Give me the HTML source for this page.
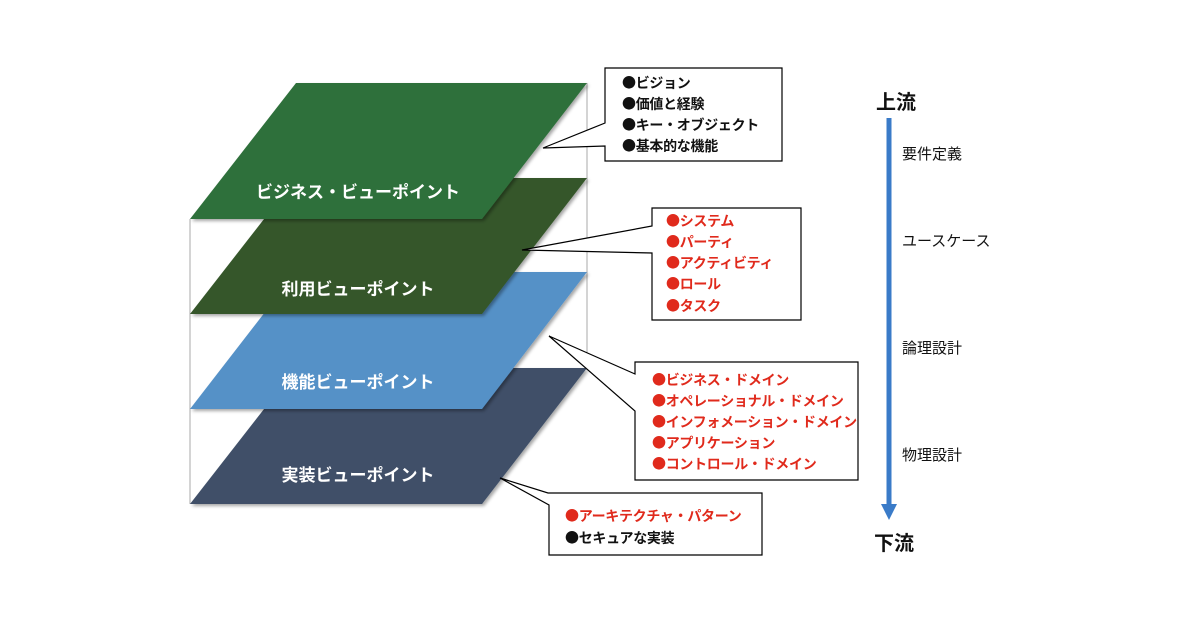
<!DOCTYPE html>
<html><head><meta charset="utf-8"><style>
html,body{margin:0;padding:0;background:#fff;}
svg text{font-family:"Liberation Sans","Noto Sans CJK JP",sans-serif;}
.b{font-family:"Noto Sans CJK JP",sans-serif;}
</style></head><body>
<svg width="1200" height="630" viewBox="0 0 1200 630" xmlns="http://www.w3.org/2000/svg">
<defs><filter id="sh" x="-5%" y="-5%" width="115%" height="115%"><feDropShadow dx="2" dy="2" stdDeviation="1.5" flood-color="#000" flood-opacity="0.35"/></filter></defs>
<g stroke="#aaa" stroke-width="1" fill="none">
<line x1="190" y1="219" x2="190" y2="504"/>
<line x1="587" y1="83" x2="587" y2="368"/>
<line x1="482" y1="219" x2="482" y2="504" stroke="#bbb" stroke-dasharray="1,1"/>
</g>
<polygon points="296,368 587,368 482,504 190,504" fill="#3f5068" filter="url(#sh)"/>
<polygon points="296,272 587,272 482,409 190,409" fill="#5591c7" filter="url(#sh)"/>
<polygon points="296,178 587,178 482,314 190,314" fill="#365629" filter="url(#sh)"/>
<polygon points="296,83 587,83 482,219 190,219" fill="#2f6f3b" filter="url(#sh)"/>
<g fill="#fff" font-size="17" font-weight="bold" text-anchor="middle">
<text x="358" y="198">ビジネス・ビューポイント</text>
<text x="358" y="295">利用ビューポイント</text>
<text x="358" y="388">機能ビューポイント</text>
<text x="358" y="481">実装ビューポイント</text>
</g>
<g stroke="#000" stroke-width="1.2" fill="#fff">
<polygon points="605,68 782,68 782,161 605,161 605,146 543,148 605,123"/>
<polygon points="652,208 801,208 801,320 652,320 652,253 522,250 652,226"/>
<polygon points="635,362 858,362 858,480 635,480 635,411 549,336 635,374"/>
<polygon points="549,493 762,493 762,555 549,555 549,505 500,478 548,493"/>
</g>
<g font-size="14" font-weight="bold" letter-spacing="-0.3">
<g fill="#111">
<text x="622" y="88"><tspan class="b">●</tspan>ビジョン</text>
<text x="622" y="109"><tspan class="b">●</tspan>価値と経験</text>
<text x="622" y="130"><tspan class="b">●</tspan>キー・オブジェクト</text>
<text x="622" y="151"><tspan class="b">●</tspan>基本的な機能</text>
</g>
<g fill="#e02a1c">
<text x="666" y="226"><tspan class="b">●</tspan>システム</text>
<text x="666" y="247"><tspan class="b">●</tspan>パーティ</text>
<text x="666" y="268"><tspan class="b">●</tspan>アクティビティ</text>
<text x="666" y="289"><tspan class="b">●</tspan>ロール</text>
<text x="666" y="311"><tspan class="b">●</tspan>タスク</text>
<text x="652" y="385"><tspan class="b">●</tspan>ビジネス・ドメイン</text>
<text x="652" y="406"><tspan class="b">●</tspan>オペレーショナル・ドメイン</text>
<text x="652" y="427"><tspan class="b">●</tspan>インフォメーション・ドメイン</text>
<text x="652" y="448"><tspan class="b">●</tspan>アプリケーション</text>
<text x="652" y="469"><tspan class="b">●</tspan>コントロール・ドメイン</text>
<text x="565" y="521"><tspan class="b">●</tspan>アーキテクチャ・パターン</text>
</g>
<text x="565" y="543" fill="#111"><tspan class="b">●</tspan>セキュアな実装</text>
</g>
<line x1="889" y1="118" x2="889" y2="506" stroke="#3a7bc8" stroke-width="5"/>
<polygon points="881,504 897,504 889,520" fill="#3a7bc8"/>
<g fill="#111">
<text x="876" y="109" font-size="20" font-weight="bold">上流</text>
<text x="874" y="550" font-size="20" font-weight="bold">下流</text>
<g font-size="15">
<text x="902" y="159">要件定義</text>
<text x="902" y="246">ユースケース</text>
<text x="902" y="353">論理設計</text>
<text x="902" y="460">物理設計</text>
</g></g>
</svg>
</body></html>
